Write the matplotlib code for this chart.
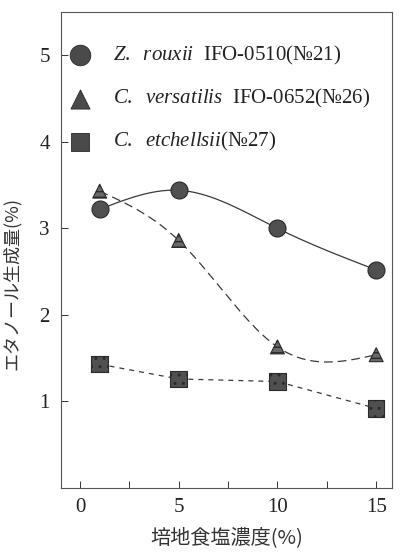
import numpy as np
import matplotlib.pyplot as plt

plt.rcParams['font.family'] = ['Liberation Serif', 'DejaVu Serif']
plt.rcParams['mathtext.fontset'] = 'custom'
plt.rcParams['mathtext.rm'] = 'Liberation Serif'
plt.rcParams['mathtext.it'] = 'Liberation Serif:italic'

# salt concentration (%)
salt = [1, 5, 10, 15]

# ethanol produced (%)
rouxii = [3.22, 3.44, 3.00, 2.52]
versatilis = [3.43, 2.86, 1.63, 1.54]
etchellsii = [1.43, 1.26, 1.23, 0.92]

labels = [r'$\mathit{Z.\ \ rouxii}$  IFO-0510(№21)',
          r'$\mathit{C.\ \ versatilis}$  IFO-0652(№26)',
          r'$\mathit{C.\ \ etchellsii}$(№27)']


def natural_spline(x, y, xs):
    x = np.asarray(x, float)
    y = np.asarray(y, float)
    n = len(x)
    h = np.diff(x)
    A = np.zeros((n, n))
    b = np.zeros(n)
    A[0, 0] = A[-1, -1] = 1
    for i in range(1, n - 1):
        A[i, i - 1] = h[i - 1]
        A[i, i] = 2 * (h[i - 1] + h[i])
        A[i, i + 1] = h[i]
        b[i] = 6 * ((y[i + 1] - y[i]) / h[i] - (y[i] - y[i - 1]) / h[i - 1])
    m = np.linalg.solve(A, b)
    out = np.empty_like(xs)
    for k, t in enumerate(xs):
        i = min(max(np.searchsorted(x, t) - 1, 0), n - 2)
        a = (x[i + 1] - t) / h[i]
        c = (t - x[i]) / h[i]
        out[k] = (a * y[i] + c * y[i + 1]
                  + ((a ** 3 - a) * m[i] + (c ** 3 - c) * m[i + 1]) * h[i] ** 2 / 6)
    return out


fig = plt.figure(figsize=(4.02, 5.53), dpi=100)
ax = fig.add_axes([61 / 402, 1 - 488 / 553, 331 / 402, 476 / 553])

xs = np.linspace(salt[0], salt[-1], 200)
ink = '#3a3a3a'
ax.plot(xs, natural_spline(salt, rouxii, xs), color=ink, lw=0.9, ls='-')
ax.plot(xs, natural_spline(salt, versatilis, xs), color=ink, lw=0.9,
        ls=(0, (7, 4)))
ax.plot(salt, etchellsii, color=ink, lw=0.9, ls=(0, (4, 4)))

ax.scatter(salt, rouxii, marker='o', s=150, color='#505050',
           edgecolors='#2a2a2a', linewidths=0.8, zorder=3)
ax.scatter(salt, versatilis, marker='^', s=100, color='#6a6a6a',
           edgecolors='#2a2a2a', linewidths=0.8, hatch='---', zorder=3)
ax.scatter(salt, etchellsii, marker='s', s=140, color='#505050',
           edgecolors='#2a2a2a', linewidths=0.8, hatch='..', zorder=3)

# legend drawn as markers and labels inside the axes
leg_y = [5, 4.5, 4]
leg_m = ['o', '^', 's']
leg_s = [220, 190, 170]
for yy, mk, sz, lab in zip(leg_y, leg_m, leg_s, labels):
    ax.scatter([0], [yy], marker=mk, s=sz, color='#4a4a4a',
               edgecolors='#2a2a2a', linewidths=0.6, zorder=3, clip_on=False)
    ax.text(1.65, yy, lab, fontsize=15, va='center', ha='left',
            color='#222222')

ax.set_xlim(-0.96, 15.8)
ax.set_ylim(0, 5.5)
ax.set_xticks([0, 2.5, 5, 7.5, 10, 12.5, 15])
ax.set_xticklabels(['0', '', '5', '', '10', '', '15'])
ax.set_yticks([1, 2, 3, 4, 5])
ax.tick_params(direction='in', length=5, width=0.7, labelsize=15,
               colors='#333333', labelcolor='#222222')
ax.tick_params(axis='x', pad=7)
ax.tick_params(axis='y', pad=8)
for sp in ax.spines.values():
    sp.set_linewidth(0.8)
    sp.set_color('#555555')
ax.spines['left'].set_linestyle((0, (6, 1)))
ax.spines['top'].set_linestyle((0, (6, 1)))

ax.set_xlabel('培地食塩濃度(%)', family=['Noto Sans CJK JP', 'DejaVu Sans'],
              fontsize=14.5, color='#333333', labelpad=8)
ax.set_ylabel('エタノール生成量(%)', family=['Noto Sans CJK JP', 'DejaVu Sans'],
              fontsize=13, color='#333333', labelpad=16)
ax.yaxis.set_label_coords(-0.12, 0.43)

fig.savefig('out.png', dpi=100)
